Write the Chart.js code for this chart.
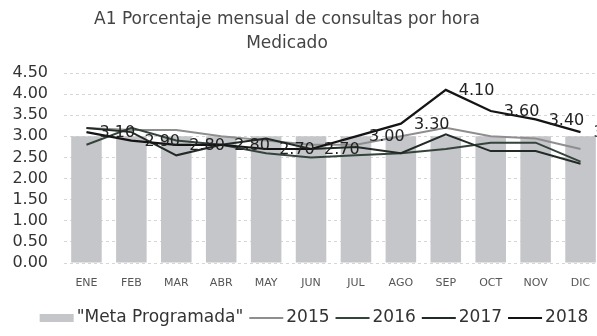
<!DOCTYPE html>
<html>
<head>
<meta charset="utf-8">
<script src="https://cdn.jsdelivr.net/npm/chart.js@4/dist/chart.umd.min.js"></script>
<style>
  html, body { margin: 0; padding: 0; background: #fff; overflow: hidden; }
  #wrap { width: 597px; height: 336px; overflow: hidden; }
  #chart { display: block; }
</style>
</head>
<body>
<div id="wrap"><canvas id="chart" width="605" height="336"></canvas></div>
<script>
// Monthly consultations per medical hour, target vs. four years.
var months = ['ENE', 'FEB', 'MAR', 'ABR', 'MAY', 'JUN', 'JUL', 'AGO', 'SEP', 'OCT', 'NOV', 'DIC'];
var meta = [3.0, 3.0, 3.0, 3.0, 3.0, 3.0, 3.0, 3.0, 3.0, 3.0, 3.0, 3.0];
var y2015 = [3.2, 3.15, 3.15, 3.0, 2.9, 2.8, 2.8, 3.0, 3.2, 3.0, 2.95, 2.7];
var y2016 = [2.8, 3.2, 2.9, 2.8, 2.6, 2.5, 2.55, 2.6, 2.7, 2.85, 2.85, 2.4];
var y2017 = [3.2, 3.1, 2.55, 2.8, 2.95, 2.7, 2.75, 2.6, 3.05, 2.65, 2.65, 2.35];
var y2018 = [3.1, 2.9, 2.8, 2.8, 2.7, 2.7, 3.0, 3.3, 4.1, 3.6, 3.4, 3.1];
var titleLines = ['A1 Porcentaje mensual de consultas por hora', 'Medicado'];

var FONT = "'DejaVu Sans', sans-serif";

// Value labels to the right of each 2018 point.
var pointLabels = {
    id: 'pointLabels',
    afterDatasetsDraw: function(chart) {
        var ctx = chart.ctx;
        chart.data.datasets.forEach(function(ds, i) {
            if (!ds.showValues) {
                return;
            }
            var meta = chart.getDatasetMeta(i);
            ctx.save();
            ctx.font = '16px ' + FONT;
            ctx.fillStyle = '#222';
            ctx.textAlign = 'left';
            ctx.textBaseline = 'middle';
            meta.data.forEach(function(pt, j) {
                ctx.fillText(ds.data[j].toFixed(2), pt.x + 13, pt.y + 1);
            });
            ctx.restore();
        });
    }
};

// Two-line heading, centred a little left of the canvas middle.
var heading = {
    id: 'heading',
    afterDraw: function(chart) {
        var ctx = chart.ctx;
        ctx.save();
        ctx.font = '17px ' + FONT;
        ctx.fillStyle = '#444';
        ctx.textAlign = 'center';
        ctx.textBaseline = 'middle';
        ctx.fillText(titleLines[0], 287, 20);
        ctx.fillText(titleLines[1], 287, 44);
        ctx.restore();
    }
};

// Legend row under the axis: bar swatch, then line samples.
var legendRow = {
    id: 'legendRow',
    afterDraw: function(chart) {
        var ctx = chart.ctx;
        var dsets = chart.data.datasets;
        var swatch = 34, gapIn = 3, gapOut = 6, y = 318;
        ctx.save();
        ctx.font = '17px ' + FONT;
        ctx.textBaseline = 'middle';
        ctx.textAlign = 'left';
        var total = 0;
        dsets.forEach(function(ds, i) {
            total += swatch + gapIn + ctx.measureText(ds.label).width + (i < dsets.length - 1 ? gapOut : 0);
        });
        var x = 314 - total / 2;
        dsets.forEach(function(ds) {
            if (ds.type === 'bar') {
                ctx.fillStyle = ds.backgroundColor;
                ctx.fillRect(x, y - 4, swatch, 8);
            } else {
                ctx.strokeStyle = ds.borderColor;
                ctx.lineWidth = ds.borderWidth;
                ctx.beginPath();
                ctx.moveTo(x, y);
                ctx.lineTo(x + swatch, y);
                ctx.stroke();
            }
            x += swatch + gapIn;
            ctx.fillStyle = '#333';
            ctx.fillText(ds.label, x, y);
            x += ctx.measureText(ds.label).width + gapOut;
        });
        ctx.restore();
    }
};

new Chart(document.getElementById('chart'), {
    type: 'bar',
    data: {
        labels: months,
        datasets: [{
            type: 'bar',
            label: '"Meta Programada"',
            data: meta,
            backgroundColor: '#c5c6c9',
            borderWidth: 0,
            categoryPercentage: 0.8,
            barPercentage: 0.85,
            order: 5
        }, {
            type: 'line',
            label: '2015',
            data: y2015,
            borderColor: '#8e8e8e',
            borderWidth: 2,
            pointRadius: 0,
            tension: 0,
            order: 4
        }, {
            type: 'line',
            label: '2016',
            data: y2016,
            borderColor: '#34443b',
            borderWidth: 2,
            pointRadius: 0,
            tension: 0,
            order: 3
        }, {
            type: 'line',
            label: '2017',
            data: y2017,
            borderColor: '#222b26',
            borderWidth: 2,
            pointRadius: 0,
            tension: 0,
            order: 2
        }, {
            type: 'line',
            label: '2018',
            data: y2018,
            borderColor: '#141414',
            borderWidth: 2.2,
            pointRadius: 0,
            tension: 0,
            showValues: true,
            order: 1
        }]
    },
    options: {
        responsive: false,
        animation: false,
        layout: { padding: { left: 4, right: 2, top: 73, bottom: 43 } },
        scales: {
            x: {
                afterFit: function(s) { s.height = 30; },
                grid: { display: false },
                border: { display: false },
                ticks: { color: '#555', font: { family: FONT, size: 11 }, padding: 6 }
            },
            y: {
                min: 0,
                max: 4.5,
                afterFit: function(s) { s.width = 60; },
                ticks: {
                    stepSize: 0.5,
                    autoSkip: false,
                    color: '#333',
                    padding: 16,
                    font: { family: FONT, size: 16 },
                    callback: function(v) { return v.toFixed(2); }
                },
                grid: { color: '#d6d6d6', drawTicks: false },
                border: { display: false, dash: [3, 3] }
            }
        },
        plugins: {
            title: { display: false },
            legend: { display: false },
            tooltip: { enabled: false }
        }
    },
    plugins: [pointLabels, heading, legendRow]
});
</script>
</body>
</html>
